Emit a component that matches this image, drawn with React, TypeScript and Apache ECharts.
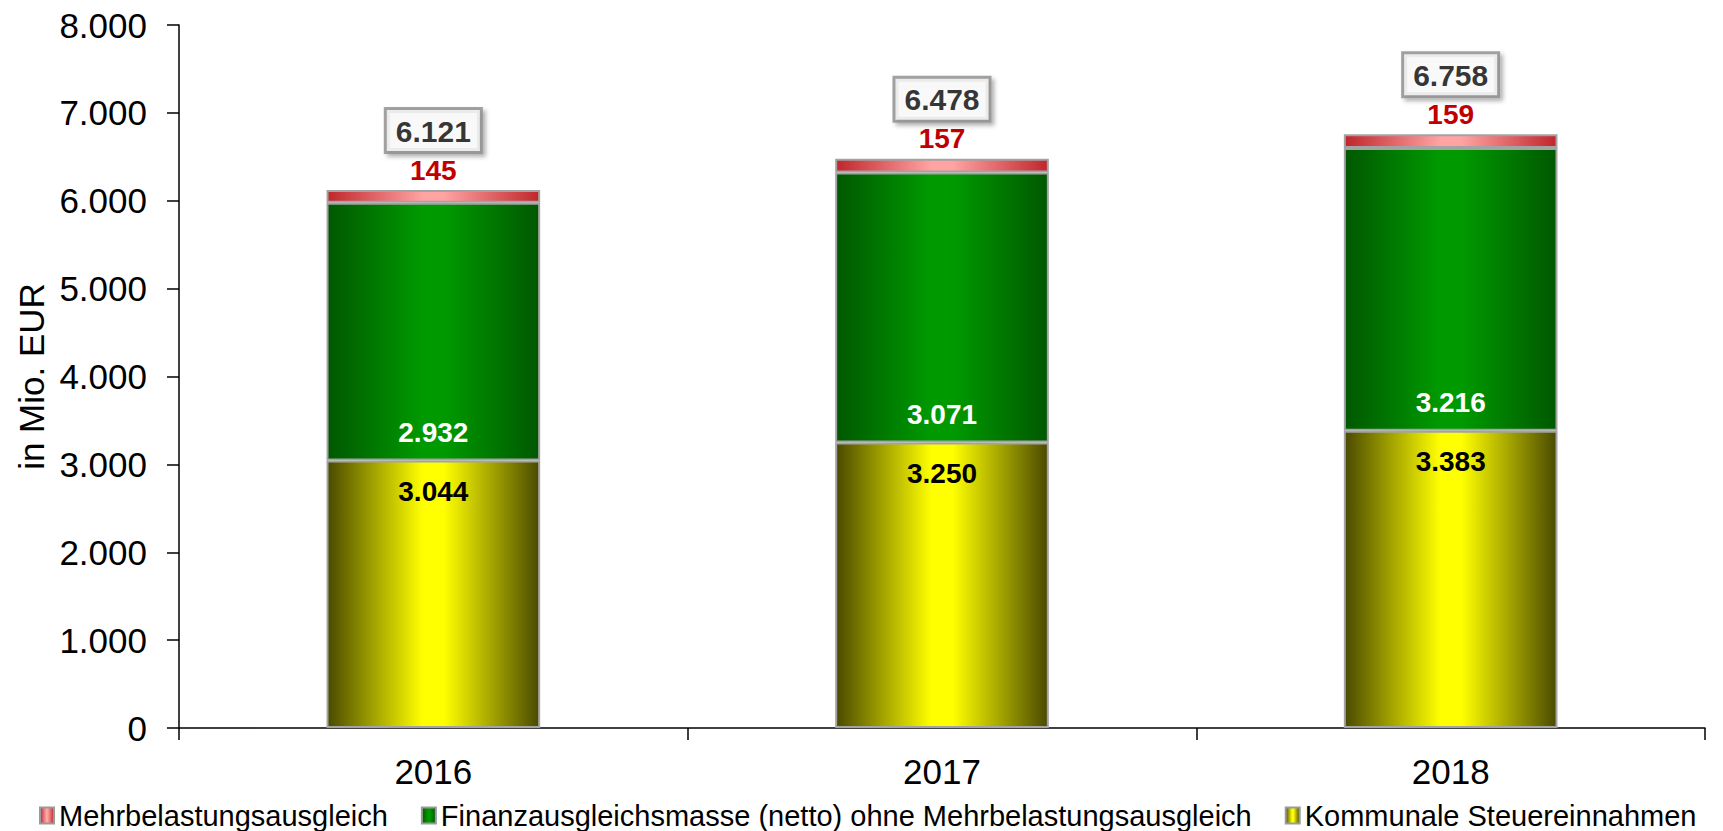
import React, { useEffect, useRef } from "react";
import * as echarts from "echarts";

const years = ["2016", "2017", "2018"];
const kommunale = [3044, 3250, 3383];
const finanz = [2932, 3071, 3216];
const mehr = [145, 157, 159];
const totals = [6121, 6478, 6758];

const nameMehr = "Mehrbelastungsausgleich";
const nameFinanz = "Finanzausgleichsmasse (netto) ohne Mehrbelastungsausgleich";
const nameKomm = "Kommunale Steuereinnahmen";

const FONT = "'Liberation Sans', Arial, sans-serif";

function fmt(v: number): string {
  const s = String(Math.round(v));
  return s.replace(/\B(?=(\d{3})+(?!\d))/g, ".");
}

function hGrad(edge: string, center: string) {
  return new echarts.graphic.LinearGradient(0, 0, 1, 0, [
    { offset: 0, color: edge },
    { offset: 0.45, color: center },
    { offset: 0.55, color: center },
    { offset: 1, color: edge },
  ]);
}

export default function App() {
  const ref = useRef<HTMLDivElement>(null);
  useEffect(() => {
    document.body.style.margin = "0";
    const chart = echarts.init(ref.current!, null, { renderer: "svg" });
    const border = { borderColor: "#a3a3a3", borderWidth: 2 };
    chart.setOption({
      animation: false,
      backgroundColor: "#ffffff",
      textStyle: { fontFamily: FONT },
      grid: { left: 179, right: 18, top: 25, bottom: 103 },
      legend: {
        data: [nameMehr, nameFinanz, nameKomm],
        left: 34,
        top: 796,
        icon: "rect",
        itemWidth: 14,
        itemHeight: 16,
        itemGap: 33,
        itemStyle: { borderColor: "#9a9a9a", borderWidth: 2 },
        textStyle: { fontSize: 29, color: "#000", fontFamily: FONT },
      },
      xAxis: {
        type: "category",
        data: years,
        axisLine: { lineStyle: { color: "#000", width: 1.5 } },
        axisTick: { show: true, length: 12, lineStyle: { color: "#000", width: 1.5 } },
        axisLabel: { fontSize: 35, color: "#000", margin: 26, fontFamily: FONT },
      },
      yAxis: {
        type: "value",
        min: 0,
        max: 8000,
        interval: 1000,
        name: "in Mio. EUR",
        nameLocation: "middle",
        nameGap: 128,
        nameTextStyle: { fontSize: 35, color: "#000", fontFamily: FONT },
        axisLine: { show: true, lineStyle: { color: "#000", width: 1.5 } },
        axisTick: { show: true, length: 12, lineStyle: { color: "#000", width: 1.5 } },
        splitLine: { show: false },
        axisLabel: {
          fontSize: 35,
          color: "#000",
          margin: 32,
          fontFamily: FONT,
          formatter: (v: number) => fmt(v),
        },
      },
      series: [
        {
          name: nameKomm,
          type: "bar",
          stack: "s",
          barWidth: "42%",
          data: kommunale,
          itemStyle: { color: hGrad("#4a4a00", "#ffff00"), ...border },
          label: {
            show: true,
            position: "insideTop",
            distance: 17,
            fontSize: 28,
            fontWeight: "bold",
            color: "#000",
            fontFamily: FONT,
            formatter: (p: any) => fmt(p.value),
          },
        },
        {
          name: nameFinanz,
          type: "bar",
          stack: "s",
          barWidth: "42%",
          data: finanz,
          itemStyle: { color: hGrad("#005800", "#009a00"), ...border },
          label: {
            show: true,
            position: "insideBottom",
            distance: 14,
            fontSize: 28,
            fontWeight: "bold",
            color: "#fff",
            fontFamily: FONT,
            formatter: (p: any) => fmt(p.value),
          },
        },
        {
          name: nameMehr,
          type: "bar",
          stack: "s",
          barWidth: "42%",
          data: mehr,
          itemStyle: { color: hGrad("#c0262b", "#ffa3a3"), ...border },
          label: {
            show: true,
            position: "top",
            distance: 6,
            fontSize: 28,
            fontWeight: "bold",
            color: "#c00000",
            fontFamily: FONT,
            formatter: (p: any) => fmt(p.value),
          },
        },
        {
          name: "Summe",
          type: "scatter",
          data: totals,
          symbolSize: 0,
          silent: true,
          label: {
            show: true,
            position: "top",
            distance: 39,
            fontSize: 30,
            fontWeight: "bold",
            color: "#000",
            fontFamily: FONT,
            backgroundColor: "#fff",
            borderColor: "#8c8c8c",
            borderWidth: 3,
            padding: [6, 9, 5, 9],
            shadowColor: "rgba(0,0,0,0.35)",
            shadowBlur: 4,
            shadowOffsetX: 3,
            shadowOffsetY: 3,
            formatter: (p: any) => fmt(p.value),
          },
        },
      ],
    });
    return () => chart.dispose();
  }, []);
  return <div ref={ref} style={{ width: 1723, height: 831 }} />;
}
